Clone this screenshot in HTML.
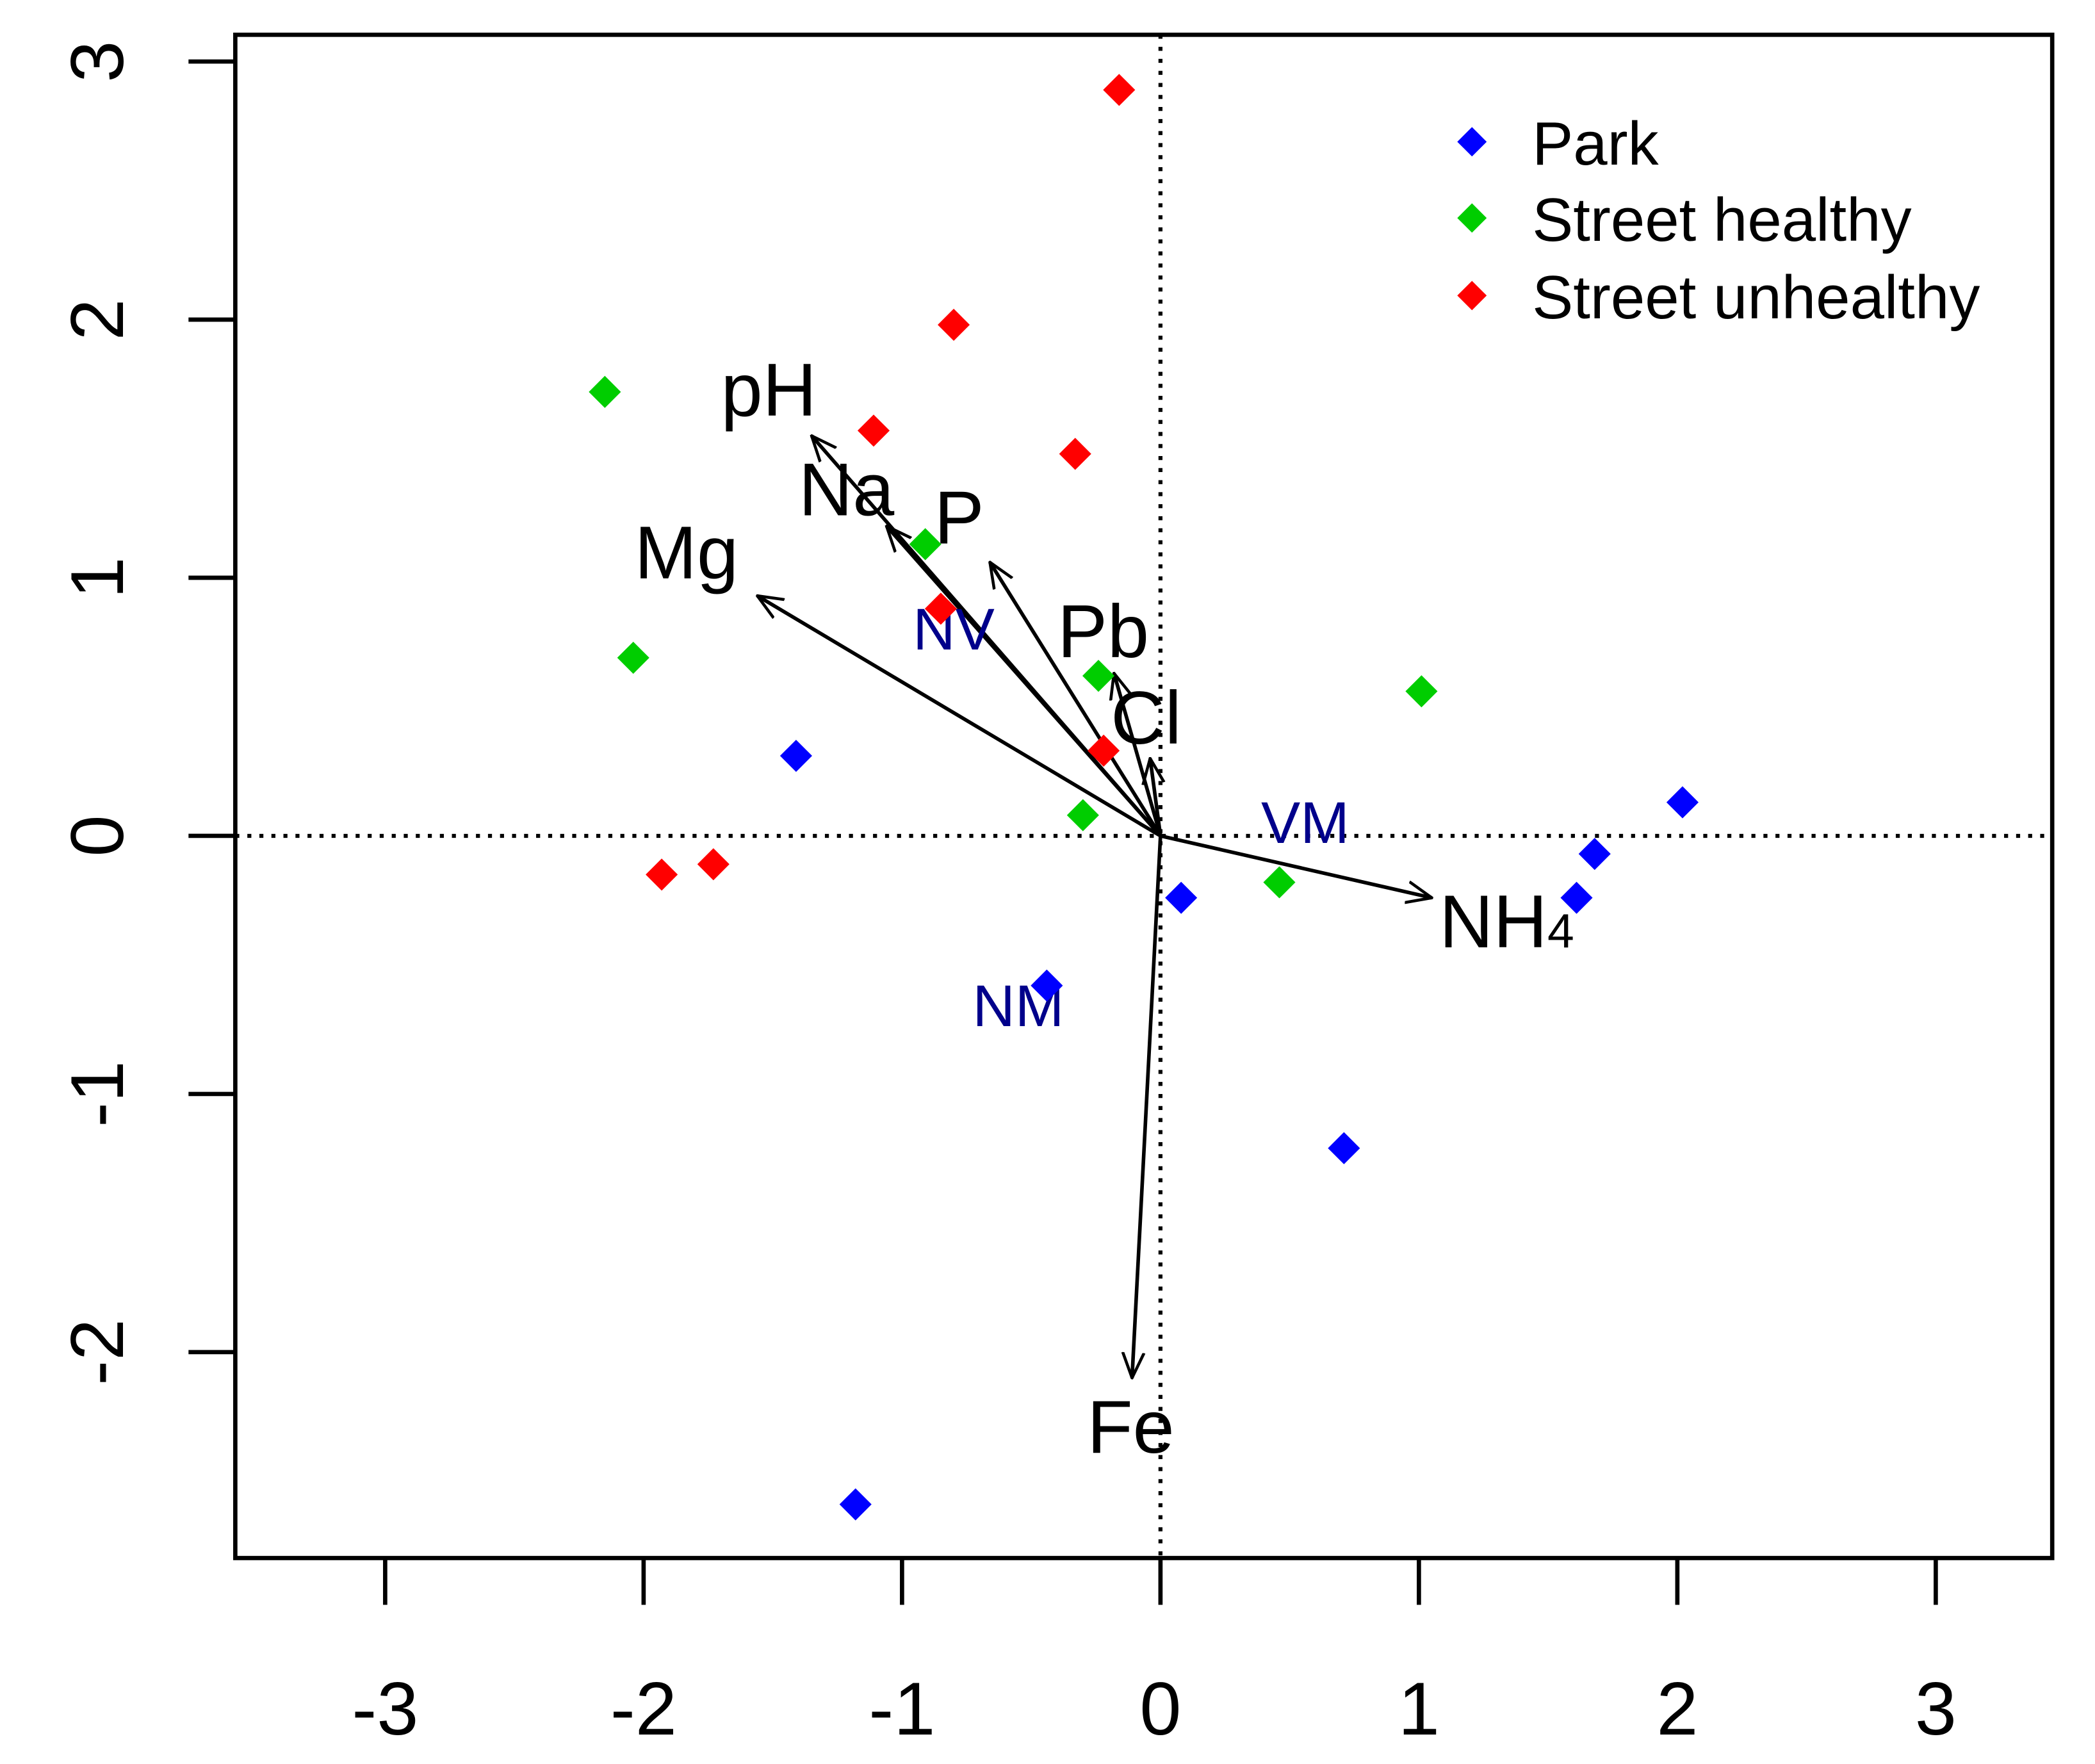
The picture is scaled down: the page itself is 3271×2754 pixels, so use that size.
<!DOCTYPE html>
<html><head><meta charset="utf-8"><style>
html,body{margin:0;padding:0;background:#fff;}
svg{display:block;font-family:"Liberation Sans",Arial,sans-serif;}
</style></head><body>
<svg id="chart" width="3271" height="2754" viewBox="0 0 1567 1319" preserveAspectRatio="none" xmlns="http://www.w3.org/2000/svg">
<defs><marker id="ah" viewBox="0 0 20 20" refX="19" refY="10" markerWidth="20" markerHeight="20" markerUnits="userSpaceOnUse" orient="auto"><path d="M0,2 L19,10 L0,18" fill="none" stroke="#000" stroke-width="2.2"/></marker></defs>
<rect x="176" y="26" width="1359" height="1139" fill="none" stroke="#000" stroke-width="3.2"/>
<g id="axes"></g><g id="arrows"></g><g id="points"></g>
<g font-size="46">
<path d="M1101,95 L1112,106 L1101,117 L1090,106Z" fill="#0000ff"/>
<text x="1146" y="123">Park</text>
<path d="M1101,152 L1112,163 L1101,174 L1090,163Z" fill="#00cd00"/>
<text x="1146" y="180">Street healthy</text>
<path d="M1101,210 L1112,221 L1101,232 L1090,221Z" fill="#ff0000"/>
<text x="1146" y="238">Street unhealthy</text>
</g>
</svg>
<script>
const xTicks=[-3,-2,-1,0,1,2,3];
const yTicks=[-2,-1,0,1,2,3];
const parkX=[-1.41,0.08,-0.44,0.71,-1.18,1.61,1.68,2.02];
const parkY=[0.31,-0.24,-0.58,-1.21,-2.59,-0.24,-0.07,0.13];
const healthyX=[-2.15,-2.04,-0.91,-0.24,-0.30,0.46,1.01];
const healthyY=[1.72,0.69,1.13,0.62,0.08,-0.18,0.56];
const unhealthyX=[-0.16,-0.80,-1.11,-0.33,-0.85,-0.22,-1.93,-1.73];
const unhealthyY=[2.89,1.98,1.57,1.48,0.88,0.33,-0.15,-0.11];
const vecNames=["pH","Na","P","Mg","Pb","Cl","NH4","Fe"];
const vecX=[-1.35,-1.06,-0.66,-1.56,-0.18,-0.04,1.05,-0.11];
const vecY=[1.55,1.20,1.06,0.93,0.63,0.30,-0.24,-2.10];
const siteNames=["NV","VM","NM"];
const siteX=[-0.80,0.56,-0.55];
const siteY=[0.80,0.05,-0.66];
const sx=v=>868+v*193.3, sy=v=>625-v*193;
const NS="http://www.w3.org/2000/svg";
function mk(t,a,p){const e=document.createElementNS(NS,t);for(const k in a)e.setAttribute(k,a[k]);p.appendChild(e);return e;}
const ax=document.getElementById('axes');
xTicks.forEach(v=>{
 const l=mk('line',{x1:sx(v),x2:sx(v),y1:1165,y2:1200,stroke:'#000','stroke-width':3.2},ax);
 
 
 const t=mk('text',{x:sx(v),y:1297,'font-size':56,'text-anchor':'middle'},ax);t.textContent=v;
 
 
});
yTicks.forEach(v=>{
 const l=mk('line',{x1:141,x2:176,y1:sy(v),y2:sy(v),stroke:'#000','stroke-width':3.2},ax);
 
 
 const t=mk('text',{x:92,y:sy(v),'font-size':56,'text-anchor':'middle',transform:`rotate(-90 92 ${sy(v)})`},ax);t.textContent=v;
 
 
});
const h=mk('line',{x1:176,x2:1535,y1:sy(0),y2:sy(0),stroke:'#000','stroke-width':3,'stroke-dasharray':'3,6'},ax);


const v0=mk('line',{x1:sx(0),x2:sx(0),y1:26,y2:1165,stroke:'#000','stroke-width':3,'stroke-dasharray':'3,6'},ax);


const ar=document.getElementById('arrows');
const lblOff={pH:[-32,-34],Na:[-30,-27],P:[-23,-33],Mg:[-53,-32],Pb:[-8,-31],Cl:[-3,-30],NH4:[56,18],Fe:[-1,37]};
vecNames.forEach((n,i)=>{
 const l=mk('line',{x1:sx(0),y1:sy(0),x2:sx(vecX[i]),y2:sy(vecY[i]),stroke:'#000','stroke-width':2.7,'marker-end':'url(#ah)'},ar);
 
 
 const o=lblOff[n]||[0,0];
 const t=mk('text',{x:sx(vecX[i])+o[0],y:sy(vecY[i])+o[1]+19,'font-size':56,'text-anchor':'middle'},ar);
 if(n==="NH4"){t.textContent="NH";const s=mk('tspan',{'font-size':36,dy:0},t);s.textContent="4";}
 else t.textContent=n;
 
 
});
siteNames.forEach((n,i)=>{
 const t=mk('text',{x:sx(siteX[i]),y:sy(siteY[i])+15,'font-size':44,'text-anchor':'middle',fill:'#00008b'},ar);t.textContent=n;
 
 
});
const pg=document.getElementById('points');
function pts(X,Y,c,name){X.forEach((x,i)=>{
 const cx=sx(x),cy=sy(Y[i]);
 const p=mk('path',{d:`M${cx},${cy-12} L${cx+12},${cy} L${cx},${cy+12} L${cx-12},${cy}Z`,fill:c},pg);
 
 
});}
pts(parkX,parkY,'#0000ff','point-park');
pts(healthyX,healthyY,'#00cd00','point-street-healthy');
pts(unhealthyX,unhealthyY,'#ff0000','point-street-unhealthy');
</script>
</body></html>
